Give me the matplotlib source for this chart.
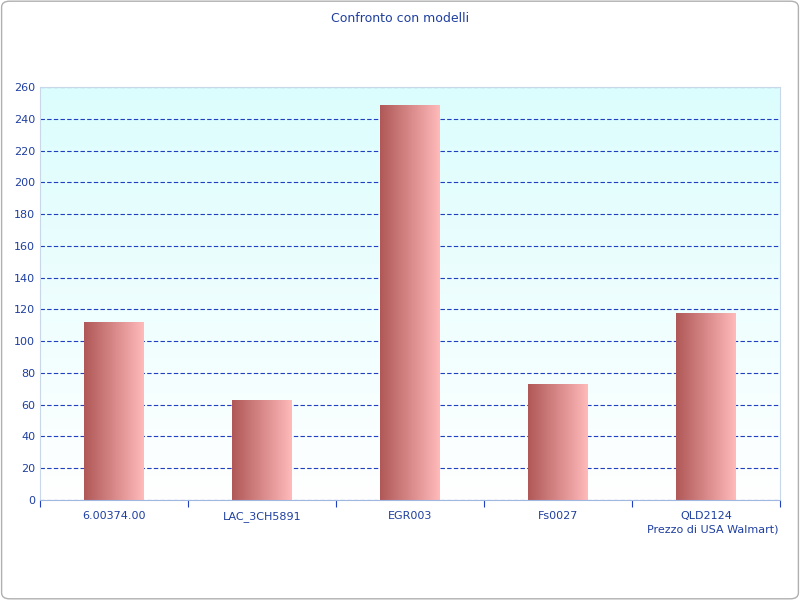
import numpy as np
import matplotlib
matplotlib.use("Agg")
import matplotlib.pyplot as plt
from matplotlib.patches import FancyBboxPatch
from matplotlib.colors import LinearSegmentedColormap

categories = ["6.00374.00", "LAC_3CH5891", "EGR003", "Fs0027", "QLD2124"]
prices = [112, 63, 249, 73, 118]
yticks = list(range(0, 261, 20))

txt = "#1f3fa0"
fig = plt.figure(figsize=(8, 6), dpi=100)
fig.patches.append(FancyBboxPatch((0.002, 0.002), 0.996, 0.996, boxstyle="round,pad=0,rounding_size=0.01",
                                  transform=fig.transFigure, fc="white", ec="#b0b0b0", lw=1, zorder=-10))
ax = fig.add_axes([0.05, 0.1667, 0.925, 0.688])
ax.set_zorder(1)
ax.set_xlim(0, len(categories))
ax.set_ylim(0, 260)

# background gradient
bg = np.linspace(0, 1, 256).reshape(-1, 1)
bgcm = LinearSegmentedColormap.from_list("bg", ["#ffffff", "#dcfdfd"])
ax.imshow(bg, extent=[0, len(categories), 0, 260], origin="lower", aspect="auto", cmap=bgcm, zorder=0)

ax.yaxis.grid(True, color="#2040c0", ls=(0, (4, 2)), lw=0.8, zorder=1)
ax.set_axisbelow(True)

barcm = LinearSegmentedColormap.from_list("bar", ["#b05858", "#d88888", "#ffbaba"])
grad = np.linspace(0, 1, 256).reshape(1, -1)
bars = ax.bar(np.arange(len(categories)) + 0.5, prices, width=0.4, color="none", zorder=2)
for b in bars:
    x0, w, h = b.get_x(), b.get_width(), b.get_height()
    im = ax.imshow(grad, extent=[x0, x0 + w, 0, h], aspect="auto", cmap=barcm, zorder=2)
    im.set_clip_path(b)
ax.set_xlim(0, len(categories))
ax.set_ylim(0, 260)

ax.set_yticks(yticks)
ax.set_xticks(np.arange(len(categories) + 1))
ax.set_xticklabels([])
ax.set_xticks(np.arange(len(categories)) + 0.5, minor=True)
ax.set_xticklabels(categories, minor=True)
ax.tick_params(axis="x", which="minor", length=0, pad=8, colors=txt, labelsize=8)
ax.tick_params(axis="x", which="major", length=5, color="#2040c0")
ax.tick_params(axis="y", length=0, colors=txt, labelsize=8)
for s in ["top", "right", "left"]:
    ax.spines[s].set_color("#c8d8e8")
ax.spines["bottom"].set_color("#a0b8e0")

fig.text(0.5, 0.98, "Confronto con modelli", ha="center", va="top", color=txt, fontsize=9)
fig.text(0.973, 0.118, "Prezzo di USA Walmart)", ha="right", va="center", color=txt, fontsize=8)

fig.savefig("out.png")
